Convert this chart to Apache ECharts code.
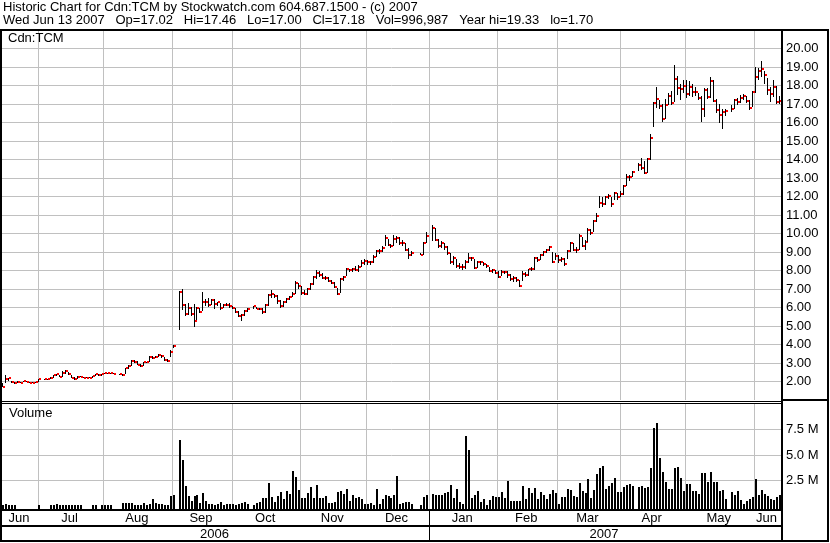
<!DOCTYPE html>
<html><head><meta charset="utf-8">
<script src="https://cdn.jsdelivr.net/npm/echarts@6/dist/echarts.min.js"></script>
<style>html,body{margin:0;padding:0;background:#fff}#c{width:830px;height:543px}</style>
</head><body><div id="c"></div>
<script>
// ---------------- text ----------------
const titleLine1 = 'Historic Chart for Cdn:TCM by Stockwatch.com 604.687.1500 - (c) 2007';
const titleLine2 = 'Wed Jun 13 2007   Op=17.02   Hi=17.46   Lo=17.00   Cl=17.18   Vol=996,987   Year hi=19.33   lo=1.70';
const symbolLabel = 'Cdn:TCM';
const volumeLabel = 'Volume';
const monthLabels = ['Jun','Jul','Aug','Sep','Oct','Nov','Dec','Jan','Feb','Mar','Apr','May','Jun'];
const yearLabels = ['2006','2007'];
const volTicks = [2.5, 5.0, 7.5];           // millions
const firstDay = '2006-06-14', lastDay = '2007-06-13';   // weekday axis

// ---------------- data (one entry per weekday, null = no trading) ----------------
const close = [
 1.72,2.12,2.17,1.96,1.93,1.96,1.93,2.05,1.98,1.93,1.93,2.00,2.12,
 null,
 2.11,2.12,2.20,2.33,2.38,2.27,2.45,2.55,2.38,2.20,2.14,2.27,2.27,2.20,2.20,2.20,2.30,2.38,2.34,2.41,2.45,2.45,2.45,2.43,
 null,
 2.38,2.33,2.73,2.82,3.09,3.05,2.91,2.82,3.05,3.05,3.32,3.29,3.32,3.41,3.36,3.14,3.11,3.59,3.90,
 null,
 6.84,6.15,5.65,5.99,5.65,5.27,5.97,5.77,6.30,6.30,6.15,6.42,6.17,6.28,5.95,6.15,6.15,6.08,5.97,5.76,5.56,5.61,5.79,5.94,
 null,
 6.06,5.94,5.94,5.74,6.15,6.69,6.75,6.64,6.35,6.08,6.30,6.44,6.59,6.75,7.31,7.16,6.80,6.73,6.98,7.27,
 7.67,7.89,7.76,7.62,7.60,7.42,7.31,7.13,6.73,7.53,7.65,8.06,8.03,8.10,8.01,8.21,8.43,8.50,8.46,8.46,
 8.75,9.05,9.07,9.23,9.77,9.39,9.32,9.72,9.75,9.47,9.50,9.13,8.84,8.96,
 null,null,
 8.86,9.50,9.86,
 null,
 10.30,9.65,9.34,9.47,9.29,8.96,8.46,8.69,8.24,8.17,8.21,8.48,8.68,8.68,8.15,8.44,8.44,8.37,8.24,7.96,
 8.01,7.88,7.67,7.91,7.93,7.76,7.52,7.58,7.49,7.16,7.79,7.76,8.06,8.10,8.69,8.57,8.84,9.00,9.11,9.29,
 8.48,8.78,8.57,8.64,8.36,9.07,9.50,9.11,9.11,9.85,9.33,9.56,10.19,10.04,10.70,10.96,11.67,11.59,11.99,12.05,
 11.61,12.21,11.99,12.14,12.57,13.07,13.07,13.34,
 null,
 13.70,13.54,13.29,14.01,15.18,17.04,17.29,16.91,16.21,16.97,17.43,17.04,18.33,17.88,17.82,17.97,17.52,17.93,17.65,17.65,
 17.34,16.73,17.76,17.40,18.22,17.18,16.68,16.42,16.58,16.64,
 null,
 16.73,17.22,17.11,17.32,17.43,17.18,16.80,17.63,18.48,18.80,18.89,18.55,17.76,17.54,17.93,17.11,17.18
];
const high = [
 1.92,2.35,2.20,2.05,1.98,2.05,1.98,2.05,2.02,1.97,1.95,2.00,2.12,
 null,
 2.14,2.14,2.22,2.35,2.40,2.35,2.55,2.62,2.50,2.35,2.22,2.30,2.30,2.25,2.22,2.24,2.32,2.40,2.38,2.43,2.45,2.47,2.46,2.45,
 null,
 2.42,2.40,2.75,2.88,3.18,3.15,3.10,2.95,3.08,3.08,3.36,3.38,3.40,3.50,3.45,3.35,3.20,3.70,3.95,
 null,
 6.90,7.00,6.20,6.25,6.05,6.20,6.05,6.00,6.85,6.45,6.50,6.45,6.45,6.32,6.25,6.20,6.25,6.22,6.08,5.98,5.80,5.65,5.85,6.00,
 null,
 6.10,6.05,6.00,5.98,6.20,6.75,6.95,6.75,6.65,6.40,6.35,6.50,6.62,6.85,7.45,7.32,7.15,6.95,7.05,7.30,
 7.72,8.05,7.95,7.85,7.68,7.65,7.50,7.40,7.05,7.60,7.70,8.12,8.10,8.15,8.25,8.30,8.55,8.60,8.55,8.50,
 8.85,9.10,9.15,9.30,9.90,9.70,9.45,9.90,9.85,9.80,9.65,9.50,9.20,9.05,
 null,null,
 8.95,9.55,10.10,
 null,
 10.45,10.30,9.70,9.60,9.50,9.30,8.95,8.80,8.60,8.40,8.35,8.55,8.95,8.75,8.60,8.50,8.50,8.45,8.35,8.20,
 8.10,8.05,7.95,8.05,8.00,7.95,7.80,7.68,7.65,7.50,7.95,7.90,8.10,8.20,8.75,8.75,8.90,9.05,9.15,9.35,
 9.00,8.95,8.85,8.75,8.70,9.10,9.55,9.50,9.25,9.95,9.80,9.65,10.30,10.25,10.75,11.10,12.05,12.00,12.05,12.15,
 12.00,12.25,12.20,12.30,12.65,13.20,13.15,13.40,
 null,
 13.80,14.10,13.90,14.10,15.36,17.10,17.90,17.20,17.00,17.25,17.60,17.70,19.11,18.50,18.10,18.30,18.30,18.25,18.10,17.90,
 17.60,17.45,17.85,17.85,18.45,18.30,17.25,17.00,16.75,16.75,
 null,
 16.95,17.25,17.35,17.50,17.55,17.45,17.20,17.70,19.00,18.95,19.33,18.80,18.40,17.90,18.30,17.95,17.46
];
const low = [
 1.70,1.90,2.05,1.90,1.88,1.92,1.90,1.95,1.95,1.90,1.90,1.93,2.00,
 null,
 2.08,2.08,2.12,2.20,2.28,2.25,2.25,2.42,2.35,2.18,2.10,2.15,2.22,2.18,2.18,2.18,2.20,2.28,2.30,2.32,2.38,2.40,2.43,2.40,
 null,
 2.36,2.30,2.38,2.70,2.85,2.98,2.88,2.78,2.85,2.98,3.05,3.22,3.25,3.30,3.28,3.10,3.08,3.34,3.80,
 null,
 4.78,5.86,5.55,5.60,5.55,4.97,5.30,5.70,5.80,6.10,6.05,6.15,5.90,6.10,5.85,5.95,6.10,6.00,5.90,5.70,5.50,5.29,5.55,5.75,
 null,
 5.90,5.90,5.85,5.65,5.72,6.10,6.52,6.50,6.20,6.00,6.05,6.25,6.40,6.55,6.75,7.00,6.70,6.65,6.70,6.95,
 7.20,7.55,7.65,7.55,7.50,7.38,7.25,7.05,6.70,6.80,7.45,7.70,7.90,7.90,7.95,7.90,8.20,8.30,8.30,8.30,
 8.40,8.75,8.90,9.00,9.30,9.30,9.20,9.30,9.50,9.40,9.30,9.05,8.60,8.80,
 null,null,
 8.86,8.85,9.50,
 null,
 9.60,9.60,9.20,9.20,9.10,8.85,8.35,8.30,8.15,8.10,8.05,8.10,8.40,8.50,8.10,8.15,8.30,8.25,8.15,7.90,
 7.85,7.80,7.60,7.70,7.80,7.60,7.45,7.40,7.40,7.10,7.45,7.65,7.70,7.95,8.05,8.45,8.55,8.80,8.95,9.05,
 8.40,8.55,8.40,8.45,8.25,8.60,9.00,9.05,8.95,9.10,9.25,9.10,9.55,9.90,10.10,10.60,11.40,11.45,11.55,11.85,
 11.45,11.80,11.80,11.95,12.10,12.55,12.85,13.05,
 null,
 13.40,13.45,13.20,13.25,14.00,15.74,16.77,16.75,16.05,16.20,16.95,16.95,17.10,17.50,17.20,17.60,17.35,17.45,17.40,17.45,
 17.20,16.05,16.30,17.30,17.35,17.10,16.50,16.00,15.65,16.35,
 null,
 16.55,16.75,16.95,17.05,17.20,17.05,16.70,16.85,17.60,18.30,18.45,18.10,17.50,17.10,17.40,17.00,17.00
];
const volume = [ // millions of shares
 0.05,0.16,0.05,0.03,0.03,null,null,null,null,null,null,null,0.03,
 null,
 null,null,0.03,0.08,0.14,0.05,0.10,0.08,0.10,0.05,0.08,0.05,0.05,null,null,null,0.08,0.03,null,0.03,0.03,0.03,0.03,null,
 null,
 null,0.29,0.29,0.29,0.23,0.10,0.05,0.05,0.23,0.05,0.20,0.65,0.23,0.20,0.20,0.05,0.05,0.98,1.04,
 null,
 6.50,4.50,1.94,0.95,0.49,0.95,1.05,0.23,1.28,0.45,0.16,0.16,0.05,0.16,0.33,0.05,0.16,0.16,0.16,0.05,0.16,0.23,0.33,0.16,
 null,
 0.05,0.23,0.33,0.72,0.72,2.20,0.88,0.39,0.95,1.37,0.62,1.47,1.15,3.45,2.86,1.54,
 0.72,0.72,1.27,1.87,0.72,2.03,0.72,0.72,0.95,0.29,0.29,0.39,1.37,1.47,1.15,1.64,0.48,1.05,0.72,0.88,
 0.62,0.16,0.16,0.29,0.10,1.64,0.16,0.62,1.05,0.95,0.72,1.05,2.92,0.16,0.29,0.39,0.39,0.16,
 null,null,
 0.05,0.88,1.05,
 null,
 1.15,1.05,1.05,1.05,1.27,1.37,2.03,0.72,1.64,0.39,0.16,6.88,5.49,0.72,1.05,1.44,0.39,0.62,0.05,0.55,
 0.99,0.82,0.88,1.37,0.72,2.46,0.48,0.48,0.48,0.48,1.94,0.62,1.77,1.22,1.71,0.62,
 1.37,1.05,0.62,1.15,1.54,1.27,0.16,0.88,0.88,1.61,1.54,0.95,0.88,2.27,1.44,1.22,2.66,0.78,1.54,3.12,
 3.69,3.91,1.61,1.94,2.20,2.73,1.31,1.31,1.87,2.03,2.10,1.94,
 null,
 1.81,1.94,1.77,1.87,3.69,7.70,8.19,4.73,3.35,2.36,1.61,1.61,3.75,3.82,2.76,1.47,2.13,2.10,1.47,1.47,
 1.15,3.19,3.19,2.36,3.32,2.36,2.36,1.47,1.54,0.62,
 null,
 1.34,1.02,1.44,0.55,0.16,0.48,0.62,0.88,2.63,1.05,1.54,1.15,0.95,0.62,0.55,0.85,1.00
];

// ---------------- axis ranges / styles ----------------
const PRICE_MIN = 1, PRICE_MAX = 20.95;
const VOL_MIN = -0.34, VOL_MAX = 10.04;
const FONT = '"Liberation Sans", Arial, sans-serif';
const GRID_COLOR = '#c0c0c0';
const BAR_COLOR = '#000000', CLOSE_COLOR = '#ff0000';

// weekday categories
function weekdays(a, b) {
  const out = []; let d = new Date(a + 'T00:00:00Z'); const e = new Date(b + 'T00:00:00Z');
  while (d <= e) { const w = d.getUTCDay(); if (w !== 0 && w !== 6) out.push(d.toISOString().slice(0, 10)); d = new Date(d.getTime() + 86400000); }
  return out;
}
const dates = weekdays(firstDay, lastDay);

// month groups and month-boundary grid lines
const months = [];
dates.forEach((d, i) => {
  const key = d.slice(0, 7);
  if (!months.length || months[months.length - 1].key !== key) months.push({ key, first: i, last: i });
  else months[months.length - 1].last = i;
});
const gridIdx = months.slice(1).map(m => {
  const y = +m.key.slice(0, 4), mo = +m.key.slice(5, 7) - 1;
  const wd = new Date(Date.UTC(y, mo, 1)).getUTCDay();
  return (wd === 0 || wd === 6) ? m.first - 1 : m.first;
});
const gridSet = new Set(gridIdx);

const priceData = [], volData = [];
dates.forEach((d, i) => {
  if (close[i] != null) priceData.push([i, high[i], low[i], close[i]]);
  if (volume[i] != null) volData.push([i, volume[i]]);
});

const chart = echarts.init(document.getElementById('c'), null, { renderer: 'canvas', width: 830, height: 543 });

const xAxisBase = g => ({
  type: 'category', gridIndex: g, data: dates, boundaryGap: true,
  axisLine: { show: false }, axisTick: { show: false }, axisLabel: { show: false },
  splitLine: { show: true, interval: (i) => gridSet.has(i), lineStyle: { color: GRID_COLOR, width: 1 } }
});

const option = {
  animation: false,
  backgroundColor: '#ffffff',
  grid: [
    { left: 2, right: 49, top: 31, height: 369 },
    { left: 2, right: 49, top: 404, height: 105 }
  ],
  xAxis: [xAxisBase(0), xAxisBase(1)],
  yAxis: [
    {
      type: 'value', gridIndex: 0, position: 'right', min: PRICE_MIN, max: PRICE_MAX, interval: 1,
      axisLine: { show: false }, axisTick: { show: false },
      splitLine: { show: true, showMinLine: false, showMaxLine: false, lineStyle: { color: GRID_COLOR, width: 1 } },
      axisLabel: {
        margin: 5, color: '#000', fontSize: 13, fontFamily: FONT,
        formatter: v => (v >= 2 && Math.abs(v - Math.round(v)) < 1e-9) ? v.toFixed(2) : ''
      }
    },
    {
      type: 'value', gridIndex: 1, position: 'right', min: VOL_MIN, max: VOL_MAX,
      axisLine: { show: false }, axisTick: { show: false }, splitLine: { show: false }, axisLabel: { show: false }
    }
  ],
  series: [
    {
      type: 'custom', name: 'price', xAxisIndex: 0, yAxisIndex: 0, z: 3,
      data: priceData, encode: { x: 0, y: [1, 2, 3] },
      renderItem: (params, api) => {
        const i = api.value(0);
        const pH = api.coord([i, api.value(1)]);
        const pL = api.coord([i, api.value(2)]);
        const pC = api.coord([i, api.value(3)]);
        const x = Math.round(pH[0]);
        const yH = Math.round(pH[1]), yL = Math.round(pL[1]), yC = Math.round(pC[1]);
        return {
          type: 'group', children: [
            { type: 'rect', shape: { x: x - 1, y: yH, width: 1, height: Math.max(1, yL - yH) }, style: { fill: BAR_COLOR } },
            { type: 'rect', shape: { x: x, y: yC - 1, width: 2, height: 2 }, style: { fill: CLOSE_COLOR } }
          ]
        };
      }
    },
    {
      type: 'custom', name: 'volume', xAxisIndex: 1, yAxisIndex: 1, z: 3,
      data: volData, encode: { x: 0, y: 1 },
      renderItem: (params, api) => {
        const i = api.value(0);
        const top = api.coord([i, api.value(1)]);
        const base = api.coord([i, VOL_MIN]);
        const x = Math.round(top[0]);
        const yT = Math.round(top[1]), yB = Math.round(base[1]);
        return { type: 'rect', shape: { x: x - 1, y: yT, width: 2, height: Math.max(1, yB - yT) }, style: { fill: BAR_COLOR } };
      },
      markLine: {
        silent: true, symbol: 'none', z: 1, animation: false,
        lineStyle: { color: GRID_COLOR, type: 'solid', width: 1 },
        label: { show: true, position: 'end', distance: 5, color: '#000', fontSize: 13, fontFamily: FONT,
                 formatter: p => p.value.toFixed(1) + ' M' },
        emphasis: { disabled: true },
        data: volTicks.map(v => ({ yAxis: v }))
      }
    }
  ]
};
chart.setOption(option);

// -------- frame, separators and texts (positions from the axes) --------
const px = i => chart.convertToPixel({ xAxisIndex: 1 }, dates[i]);
const bw = px(1) - px(0);
const plotL = 2, plotR = 781;
const lineX = gridIdx.map(i => px(i) - bw / 2);
const bounds = [plotL].concat(lineX, [plotR]);
const janIdx = months.findIndex(m => m.key.endsWith('-01'));
const janX = Math.round(lineX[janIdx - 1]);

const R = (x, y, w, h) => ({ type: 'rect', z: 100, silent: true, shape: { x, y, width: w, height: h }, style: { fill: '#000' } });
const T = (text, x, y, align) => ({ type: 'text', z: 101, silent: true, x, y,
  style: { text, fill: '#000', font: '13px ' + FONT, align: align || 'left', verticalAlign: 'middle' } });

const g = [
  R(0, 29, 829, 2),     // top
  R(0, 29, 2, 513),     // left
  R(827, 29, 2, 513),   // right
  R(0, 540, 829, 2),    // bottom
  R(781, 29, 2, 513),   // axis column divider
  R(783, 399, 44, 2),   // right column separator
  R(2, 401, 779, 1), R(2, 403, 779, 1),   // double separator
  R(2, 509, 779, 2),    // month strip top
  R(2, 525, 779, 2),    // year strip top
  R(janX, 511, 1, 29),  // year boundary
  T(titleLine1, 3, 7.5), T(titleLine2, 3, 20.5),
  T(symbolLabel, 8, 38), T(volumeLabel, 9, 413)
];
monthLabels.forEach((m, k) => g.push(T(m, (bounds[k] + bounds[k + 1]) / 2 - 1, 518, 'center')));
g.push(T(yearLabels[0], (plotL + janX) / 2 - 1, 534, 'center'));
g.push(T(yearLabels[1], (janX + plotR) / 2 - 1, 534, 'center'));
chart.setOption({ graphic: { elements: g } });
</script></body></html>
